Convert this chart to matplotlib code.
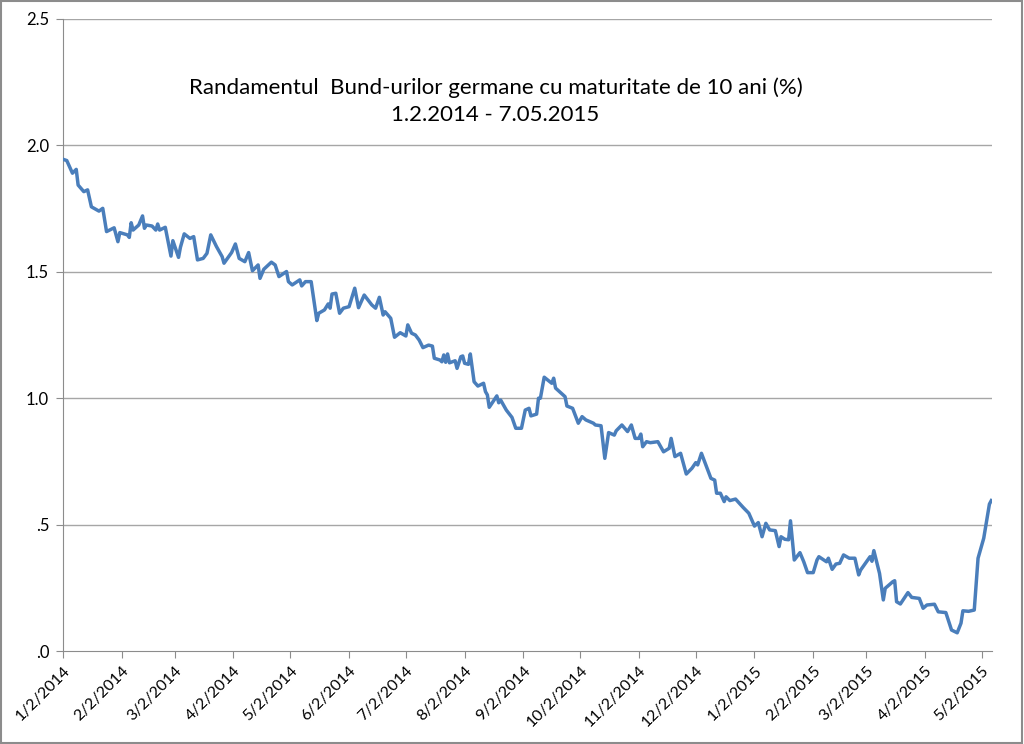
import pandas as pd
import matplotlib
matplotlib.use("Agg")
import matplotlib.pyplot as plt
from matplotlib.patches import Rectangle

plt.rcParams['font.family'] = ['Lato', 'DejaVu Sans']

start = pd.Timestamp("2014-01-02")

# days after 1/2/2014 and the yield (%)
days = [0, 2, 5, 7, 8, 11, 13, 15, 19, 21, 23, 27, 29, 30, 34, 35, 36, 37, 40, 42,
        43, 44, 47, 49, 50, 51, 54, 57, 58, 61, 62, 64, 67, 69, 71, 74, 76, 78, 81, 84,
        85, 89, 91, 93, 96, 98, 100, 103, 104, 106, 110, 112, 114, 116, 118, 119, 121, 125, 126, 128,
        131, 134, 135, 138, 140, 141, 142, 144, 146, 148, 151, 154, 156, 159, 163, 165, 167, 169, 170, 173,
        175, 178, 181, 182, 184, 186, 188, 190, 193, 195, 196, 199, 200, 201, 202, 203, 204, 207, 208, 210,
        211, 212, 214, 215, 217, 219, 222, 223, 224, 225, 229, 230, 231, 234, 237, 239, 242, 244, 246, 247,
        250, 251, 252, 254, 258, 259, 260, 265, 266, 269, 272, 274, 276, 280, 281, 284, 286, 288, 291, 292,
        295, 298, 300, 302, 304, 305, 306, 308, 310, 314, 317, 320, 321, 323, 326, 329, 332, 334, 335, 337,
        340, 342, 344, 345, 347, 349, 350, 352, 355, 359, 362, 365, 367, 369, 371, 373, 376, 378, 379, 381,
        383, 384, 386, 389, 391, 393, 396, 398, 399, 403, 404, 406, 408, 410, 412, 415, 418, 420, 421, 426,
        427, 428, 431, 433, 434, 438, 439, 440, 442, 446, 448, 452, 454, 456, 460, 462, 466, 469, 472, 474,
        475, 478, 481, 483, 486, 489, 490]
yields = [1.945, 1.94, 1.89, 1.905, 1.843, 1.817, 1.824, 1.757, 1.74, 1.751, 1.659, 1.674, 1.619, 1.655, 1.646, 1.636, 1.694, 1.665, 1.685, 1.721,
          1.672, 1.685, 1.681, 1.665, 1.689, 1.665, 1.676, 1.562, 1.623, 1.557, 1.597, 1.650, 1.632, 1.639, 1.547, 1.553, 1.573, 1.646, 1.600, 1.560,
          1.534, 1.576, 1.610, 1.553, 1.540, 1.576, 1.504, 1.527, 1.474, 1.510, 1.538, 1.527, 1.481, 1.491, 1.501, 1.461, 1.448, 1.468, 1.444, 1.461,
          1.461, 1.307, 1.336, 1.349, 1.373, 1.356, 1.412, 1.415, 1.336, 1.356, 1.362, 1.435, 1.358, 1.408, 1.369, 1.356, 1.399, 1.329, 1.342, 1.316,
          1.241, 1.259, 1.246, 1.290, 1.257, 1.250, 1.230, 1.200, 1.210, 1.206, 1.158, 1.151, 1.144, 1.171, 1.142, 1.175, 1.140, 1.148, 1.118, 1.164,
          1.167, 1.138, 1.134, 1.175, 1.065, 1.048, 1.059, 1.026, 1.013, 0.964, 1.009, 0.982, 0.993, 0.953, 0.924, 0.881, 0.881, 0.953, 0.960, 0.930,
          0.937, 1.000, 1.000, 1.083, 1.059, 1.079, 1.040, 1.006, 0.969, 0.960, 0.901, 0.927, 0.914, 0.901, 0.894, 0.891, 0.762, 0.864, 0.854, 0.871,
          0.894, 0.868, 0.894, 0.841, 0.841, 0.858, 0.808, 0.828, 0.824, 0.828, 0.788, 0.802, 0.841, 0.769, 0.782, 0.700, 0.723, 0.745, 0.736, 0.782,
          0.723, 0.683, 0.676, 0.624, 0.624, 0.591, 0.610, 0.595, 0.601, 0.568, 0.545, 0.494, 0.508, 0.452, 0.505, 0.479, 0.476, 0.413, 0.452, 0.442,
          0.440, 0.515, 0.360, 0.389, 0.353, 0.310, 0.310, 0.360, 0.373, 0.353, 0.367, 0.323, 0.344, 0.347, 0.380, 0.367, 0.367, 0.301, 0.320, 0.373,
          0.355, 0.397, 0.307, 0.202, 0.248, 0.274, 0.278, 0.195, 0.186, 0.231, 0.212, 0.208, 0.169, 0.182, 0.185, 0.155, 0.152, 0.083, 0.072, 0.110,
          0.159, 0.157, 0.162, 0.367, 0.446, 0.581, 0.595]

tick_labels = ["1/2/2014", "2/2/2014", "3/2/2014", "4/2/2014", "5/2/2014", "6/2/2014",
               "7/2/2014", "8/2/2014", "9/2/2014", "10/2/2014", "11/2/2014", "12/2/2014",
               "1/2/2015", "2/2/2015", "3/2/2015", "4/2/2015", "5/2/2015"]
y_ticks = [0, 0.5, 1.0, 1.5, 2.0, 2.5]
y_labels = [".0", ".5", "1.0", "1.5", "2.0", "2.5"]

dates = start + pd.to_timedelta(days, unit="D")
tick_dates = pd.to_datetime(tick_labels, format="%m/%d/%Y")

fig = plt.figure(figsize=(10.24, 7.44), dpi=100)
ax = fig.add_axes([0.0615, 0.125, 0.9075, 0.8495])

for y in y_ticks[1:]:
    ax.axhline(y, color="#a6a6a6", lw=1, zorder=1)
ax.plot(dates, yields, color="#4a7ebb", lw=2.5, zorder=3, solid_joinstyle="round")

ax.set_ylim(0, 2.5)
ax.set_xlim(start, start + pd.Timedelta(days=490.5))
ax.set_yticks(y_ticks)
ax.set_yticklabels(y_labels, fontsize=12)
ax.set_xticks(tick_dates)
ax.set_xticklabels(tick_labels, fontsize=11.5, rotation=45, ha="right", rotation_mode="anchor")

for s in ["top", "right"]:
    ax.spines[s].set_visible(False)
for s in ["left", "bottom"]:
    ax.spines[s].set_color("#8c8c8c")
ax.tick_params(axis="both", colors="#8c8c8c", length=5, labelcolor="black")
ax.tick_params(axis="y", pad=5)
ax.tick_params(axis="x", pad=4)

fig.text(0.484, 0.882, "Randamentul  Bund-urilor germane cu maturitate de 10 ani (%)",
         ha="center", va="center", fontsize=16)
fig.text(0.484, 0.845, "1.2.2014 - 7.05.2015", ha="center", va="center", fontsize=16)

fig.patches.append(Rectangle((0.001, 0.002), 0.997, 0.996, transform=fig.transFigure,
                             fill=False, edgecolor="#8c8c8c", lw=1.5))

fig.savefig("out.png", dpi=100)
